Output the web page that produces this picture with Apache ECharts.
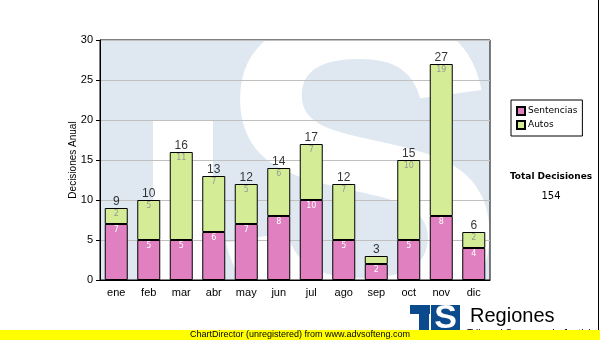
<!DOCTYPE html>
<html>
<head>
<meta charset="utf-8">
<script src="https://cdn.jsdelivr.net/npm/echarts@6/dist/echarts.min.js"></script>
<style>
  html, body { margin: 0; padding: 0; background: #ffffff; }
  #chart { width: 600px; height: 340px; }
</style>
</head>
<body>
<div id="chart"></div>
<script>
// Monthly decisions, split by type
const months = ['ene', 'feb', 'mar', 'abr', 'may', 'jun', 'jul', 'ago', 'sep', 'oct', 'nov', 'dic'];
const sentencias = [7, 5, 5, 6, 7, 8, 10, 5, 2, 5, 8, 4];
const autos = [2, 5, 11, 7, 5, 6, 7, 7, 1, 10, 19, 2];
const totals = [9, 10, 16, 13, 12, 14, 17, 12, 3, 15, 27, 6];
const totalDecisiones = 154;
const yMin = 0, yMax = 30, yStep = 5;

// Plot frame
const G = { left: 100, top: 40, width: 390, height: 240 };

const SANS = '"Liberation Sans", Arial, sans-serif';
const VERD = '"DejaVu Sans", Verdana, sans-serif';

const chart = echarts.init(document.getElementById('chart'), null, { renderer: 'canvas' });

// Segments too short for their own number stay unlabeled
const autosData = autos.map(v => (v < 2 ? { value: v, label: { show: false } } : v));

const BG_Z = -10;

const option = {
  animation: false,
  backgroundColor: '#ffffff',
  grid: {
    left: G.left, top: G.top, width: G.width, height: G.height,
    show: true, borderColor: '#000', borderWidth: 1, backgroundColor: 'transparent'
  },
  legend: {
    data: ['Sentencias', 'Autos'],
    orient: 'vertical',
    left: 511, top: 100,
    backgroundColor: '#fff',
    borderColor: '#000', borderWidth: 1, borderRadius: 0,
    padding: [6, 5, 6, 5],
    itemWidth: 8, itemHeight: 8, itemGap: 4,
    icon: 'rect',
    textStyle: { fontFamily: VERD, fontSize: 9, color: '#000', padding: [0, 0, 0, -2] }
  },
  xAxis: {
    type: 'category',
    data: months,
    axisLine: { lineStyle: { color: '#000', width: 1 } },
    axisTick: { alignWithLabel: true, length: 4, lineStyle: { color: '#000' } },
    axisLabel: { fontFamily: SANS, fontSize: 11, color: '#000', margin: 7 },
    splitLine: { show: false }
  },
  yAxis: {
    type: 'value',
    min: yMin, max: yMax, interval: yStep,
    name: 'Decisiones Anual',
    nameLocation: 'middle',
    nameGap: 22,
    nameMoveOverlap: false,
    nameTextStyle: { fontFamily: SANS, fontSize: 10, color: '#000' },
    axisLine: { show: true, lineStyle: { color: '#000', width: 1 } },
    axisTick: { show: true, length: 4, lineStyle: { color: '#000' } },
    axisLabel: { fontFamily: SANS, fontSize: 11, color: '#000', margin: 7 },
    splitLine: { show: true, lineStyle: { color: '#c0c0c0', width: 1 } }
  },
  series: [
    {
      name: 'Sentencias',
      type: 'bar',
      stack: 'dec',
      barWidth: 23,
      data: sentencias,
      itemStyle: { color: '#e080c0', borderColor: '#000', borderWidth: 1 },
      label: {
        show: true, position: 'insideTop', distance: 2,
        fontFamily: VERD, fontSize: 8, color: '#ffffff'
      },
      z: 3
    },
    {
      name: 'Autos',
      type: 'bar',
      stack: 'dec',
      barWidth: 23,
      data: autosData,
      itemStyle: { color: '#d4ec96', borderColor: '#000', borderWidth: 1 },
      label: {
        show: true, position: 'insideTop', distance: 2,
        fontFamily: VERD, fontSize: 8, color: '#999999'
      },
      z: 3
    },
    {
      name: 'Total',
      type: 'scatter',
      data: totals,
      symbolSize: 1,
      itemStyle: { color: 'rgba(0,0,0,0)' },
      label: {
        show: true, position: 'top', distance: 0,
        fontFamily: SANS, fontSize: 12, color: '#000'
      },
      silent: true,
      z: 5
    }
  ],
  graphic: [
    // Faded TS emblem behind the plot
    { type: 'rect', z: BG_Z, silent: true,
      shape: { x: G.left, y: G.top, width: G.width, height: G.height },
      style: { fill: '#dfe8f1' } },
    { type: 'rect', z: BG_Z, silent: true,
      shape: { x: 153, y: 120, width: 60, height: G.top + G.height - 120 },
      style: { fill: '#ffffff' } },
    { type: 'text', z: BG_Z, silent: true, x: 360, y: 200,
      style: { text: 'S', font: 'bold 440px "Liberation Sans"', fill: '#ffffff',
               align: 'center', verticalAlign: 'middle' } },
    // keep the emblem inside the plot frame
    { type: 'rect', z: BG_Z, silent: true,
      shape: { x: 0, y: G.top + G.height + 0.5, width: 600, height: 60 },
      style: { fill: '#ffffff' } },
    { type: 'rect', z: BG_Z, silent: true,
      shape: { x: G.left + G.width + 0.5, y: 0, width: 110, height: 300 },
      style: { fill: '#ffffff' } },
    // Grand total
    { type: 'text', x: 551, y: 177, silent: true,
      style: { text: 'Total Decisiones', font: 'bold 9px "DejaVu Sans"', fill: '#000',
               align: 'center', verticalAlign: 'middle' } },
    { type: 'text', x: 551, y: 196, silent: true,
      style: { text: String(totalDecisiones), font: '10px "DejaVu Sans"', fill: '#000',
               align: 'center', verticalAlign: 'middle' } },
    // Right edge rule
    { type: 'line', silent: true, shape: { x1: 598.5, y1: 0, x2: 598.5, y2: 330 },
      style: { stroke: '#000', lineWidth: 1 } },
    // Footer logo
    {
      type: 'group', silent: true,
      children: [
        { type: 'rect', shape: { x: 410, y: 305, width: 20, height: 9 }, style: { fill: '#0b4a8c' } },
        { type: 'rect', shape: { x: 419, y: 305, width: 10, height: 26 }, style: { fill: '#0b4a8c' } },
        { type: 'rect', shape: { x: 431, y: 305, width: 29, height: 26 }, style: { fill: '#0b4a8c' } },
        { type: 'text', x: 445.5, y: 319,
          style: { text: 'S', font: 'bold 34px "Liberation Sans"', fill: '#ffffff',
                   align: 'center', verticalAlign: 'middle' } },
        { type: 'text', x: 470, y: 316,
          style: { text: 'Regiones', font: '20px "Liberation Sans"', fill: '#000',
                   align: 'left', verticalAlign: 'middle' } },
        { type: 'text', x: 467, y: 329,
          style: { text: 'Tribunal Supremo de Justicia', font: '10px "Liberation Sans"', fill: '#000',
                   align: 'left', verticalAlign: 'top' } }
      ]
    },
    // Library banner strip
    {
      type: 'group', silent: true, z: 100,
      children: [
        { type: 'rect', z: 100, shape: { x: 0, y: 330, width: 600, height: 10 }, style: { fill: '#ffff00' } },
        { type: 'text', z: 101, x: 300, y: 335,
          style: { text: 'ChartDirector (unregistered) from www.advsofteng.com',
                   font: '9px "Liberation Sans"', fill: '#000',
                   align: 'center', verticalAlign: 'middle' } }
      ]
    }
  ]
};

chart.setOption(option);
</script>
</body>
</html>
